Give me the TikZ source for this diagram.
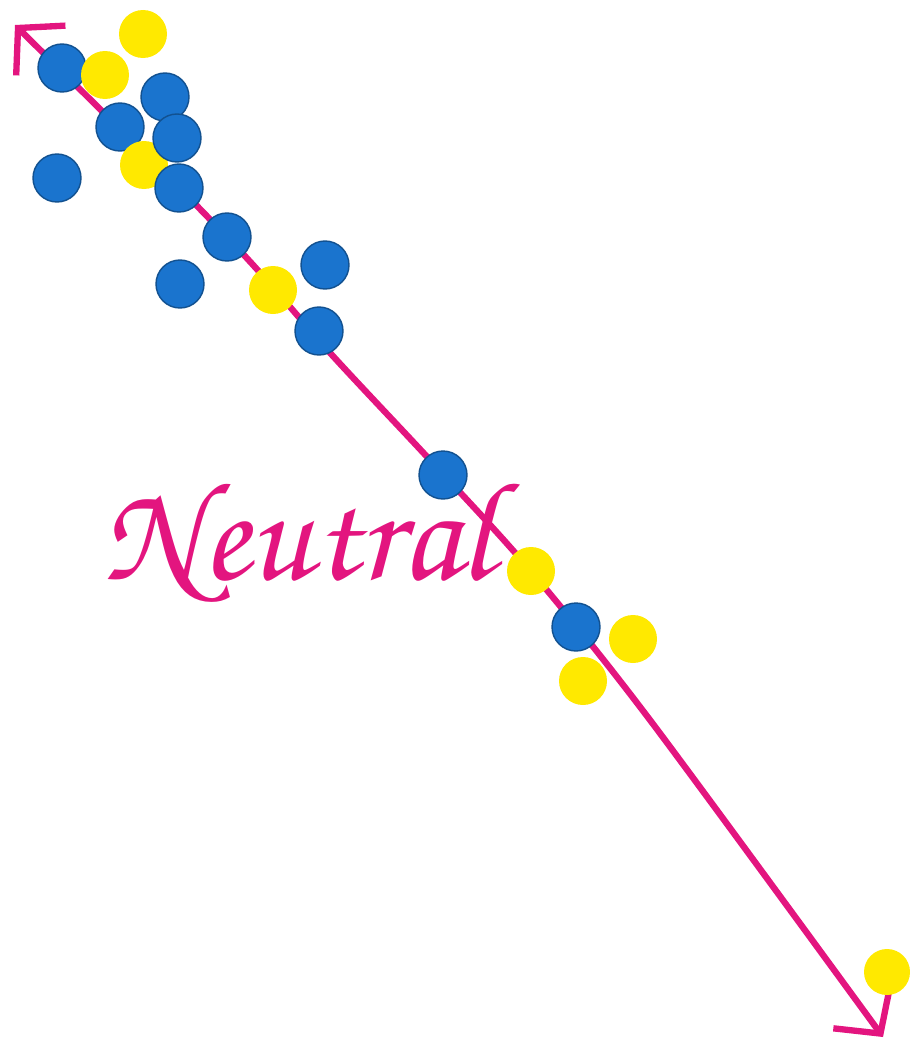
\documentclass[tikz,border=0pt]{standalone}
\usepackage[T1,TU]{fontenc}
\usepackage{tikz}
\usetikzlibrary{arrows.meta}
\definecolor{marker}{HTML}{E3157F}
\definecolor{chipblue}{HTML}{1A74CE}
\definecolor{chipyellow}{HTML}{FFE900}

\begin{document}
\begin{tikzpicture}[
    dot/.style={circle, minimum size=0.48cm, inner sep=0pt},
    bluedot/.style={dot, fill=chipblue, draw=chipblue!70!black, line width=0.4pt},
    yellowdot/.style={dot, fill=chipyellow},
    axisline/.style={{Straight Barb[length=3.2mm,width=7mm]}-{Straight Barb[length=3.2mm,width=7mm]}, marker, line width=1.8pt, line cap=round},
    neutral/.style={text=marker, font=\fontencoding{T1}\fontfamily{pzc}\fontseries{m}\fontshape{it}\fontsize{40}{42}\selectfont},
]
\useasboundingbox (0,0) rectangle (9.1,-10.42);

% ---- Axis ----
\coordinate (top) at (0.15,-0.25);
\coordinate (a1) at (2.27,-2.37);
\coordinate (a2) at (3.32,-3.55);
\coordinate (a3) at (4.30,-4.60);
\coordinate (a4) at (5.30,-5.70);
\coordinate (a5) at (6.50,-7.20);
\coordinate (bottom) at (8.83,-10.37);
\draw[axisline] plot[smooth] coordinates {(top) (a1) (a2) (a3) (a4) (a5) (bottom)};

% ---- Label ----
\node[neutral] (lbl) at (2.98,-5.42) {Neutral};

% ---- Chips, upper cluster ----
\node[yellowdot] (y1) at (1.43,-0.34) {};
\node[bluedot] (b1) at (0.62,-0.68) {};
\node[yellowdot] (y2) at (1.05,-0.75) {};
\node[bluedot] (b2) at (1.20,-1.27) {};
\node[yellowdot] (y3) at (1.44,-1.65) {};
\node[bluedot] (b3) at (1.65,-0.97) {};
\node[bluedot] (b4) at (1.77,-1.38) {};
\node[bluedot] (b5) at (1.79,-1.88) {};
\node[bluedot] (b6) at (0.57,-1.78) {};
\node[bluedot] (b7) at (2.27,-2.37) {};
\node[bluedot] (b8) at (1.80,-2.84) {};
\node[yellowdot] (y4) at (2.73,-2.90) {};
\node[bluedot] (b9) at (3.25,-2.65) {};
\node[bluedot] (b10) at (3.19,-3.31) {};

% ---- Chips, middle ----
\node[bluedot] (b11) at (4.43,-4.75) {};
\node[yellowdot] (y5) at (5.31,-5.71) {};
\node[bluedot] (b12) at (5.76,-6.27) {};
\node[yellowdot] (y6) at (6.33,-6.39) {};
\node[yellowdot] (y7) at (5.83,-6.81) {};

% ---- Chip, far end ----
\node[yellowdot, minimum size=0.46cm] (y8) at (8.87,-9.72) {};

\end{tikzpicture}
\end{document}
